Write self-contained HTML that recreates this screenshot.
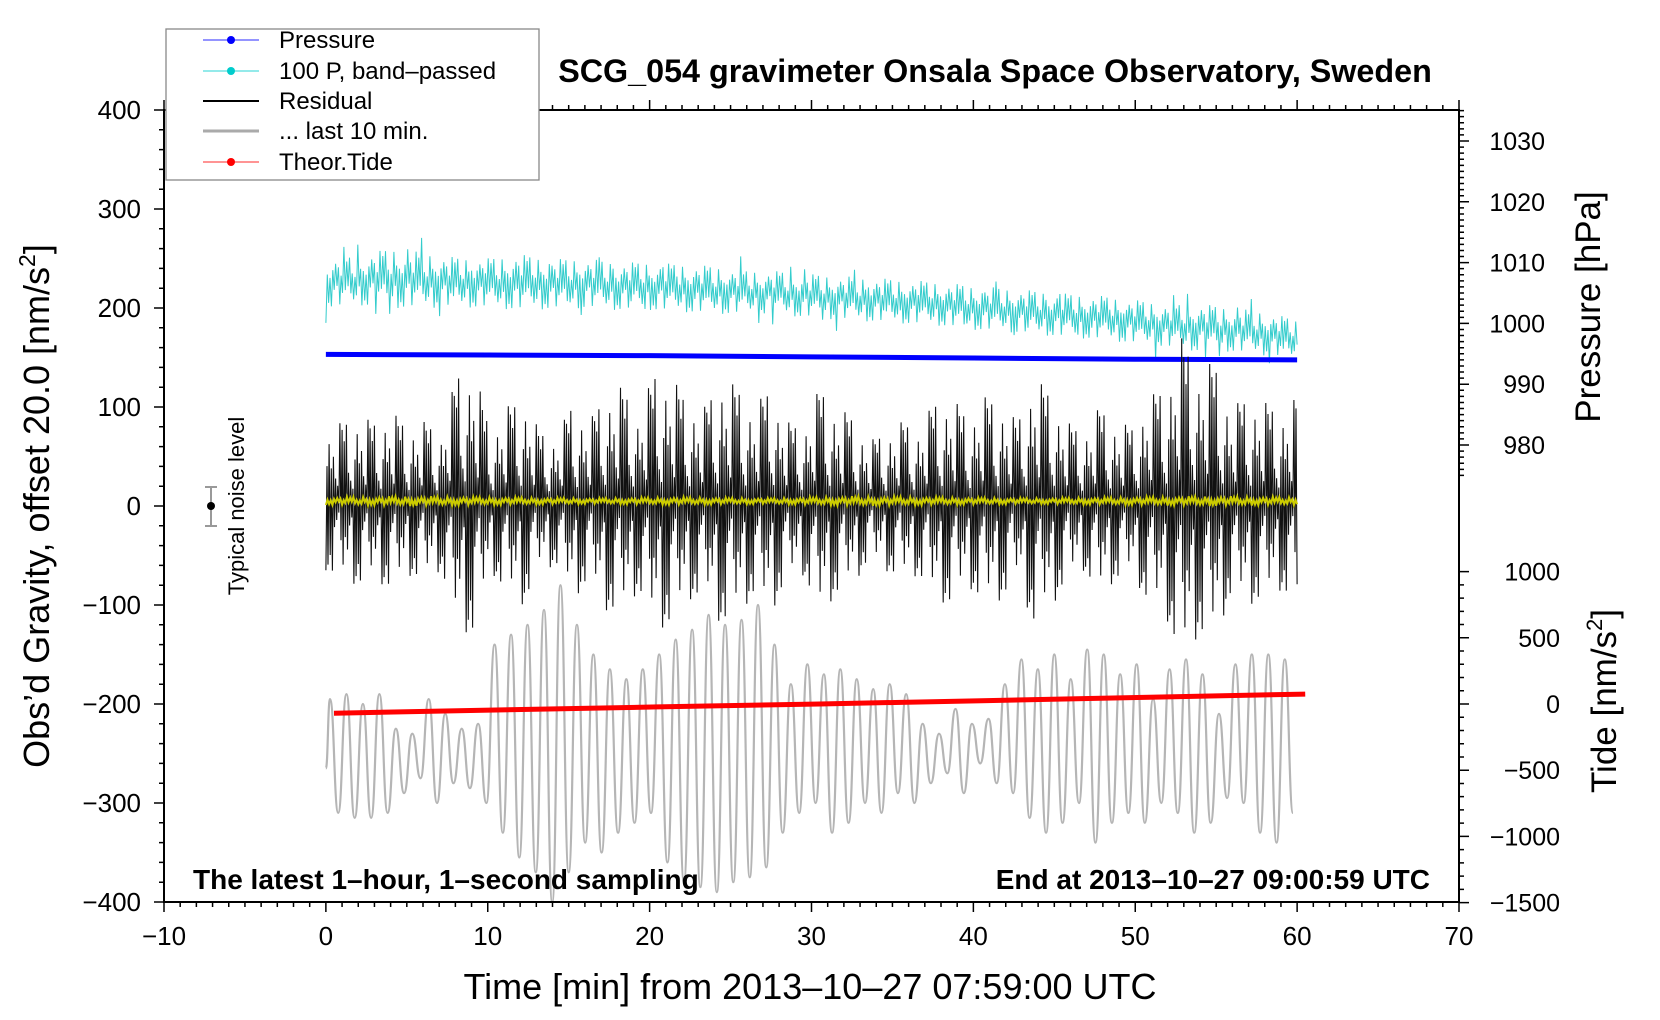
<!DOCTYPE html>
<html><head><meta charset="utf-8"><style>
html,body{margin:0;padding:0;background:#fff;}
svg{display:block;font-family:"Liberation Sans",Arial,sans-serif;}
</style></head><body>
<svg id="chart" width="1660" height="1020" viewBox="0 0 1660 1020" xmlns="http://www.w3.org/2000/svg">
<g id="marks"></g>
<g id="axes"></g>
<text x="995" y="82" font-size="32.3" font-weight="bold" text-anchor="middle">SCG_054 gravimeter Onsala Space Observatory, Sweden</text>
<text x="193" y="889" font-size="28" font-weight="bold">The latest 1–hour, 1–second sampling</text>
<text x="1430" y="889" font-size="28" font-weight="bold" text-anchor="end">End at 2013–10–27 09:00:59 UTC</text>
<text x="810" y="999" font-size="36" text-anchor="middle">Time [min] from 2013–10–27 07:59:00 UTC</text>
<text transform="translate(49,506) rotate(-90)" font-size="36" text-anchor="middle">Obs’d Gravity, offset 20.0 [nm/s<tspan font-size="23" dy="-14">2</tspan><tspan dy="14">]</tspan></text>
<text transform="translate(1600,307) rotate(-90)" font-size="35" text-anchor="middle">Pressure [hPa]</text>
<text transform="translate(1616,701) rotate(-90)" font-size="35" text-anchor="middle">Tide [nm/s<tspan font-size="22" dy="-14">2</tspan><tspan dy="14">]</tspan></text>
<g>
<line x1="211" y1="487" x2="211" y2="526" stroke="#999" stroke-width="2"/>
<line x1="205" y1="487" x2="217" y2="487" stroke="#999" stroke-width="2"/>
<line x1="205" y1="526" x2="217" y2="526" stroke="#999" stroke-width="2"/>
<circle cx="211" cy="506" r="4" fill="#000"/>
<text transform="translate(244,506) rotate(-90)" font-size="22" text-anchor="middle">Typical noise level</text>
</g>
<g>
<rect x="166" y="29" width="373" height="151" fill="#fff" stroke="#888" stroke-width="1.3"/>
<g><line x1="203" y1="40" x2="259" y2="40" stroke="#55f" stroke-width="1.2"/><circle cx="231" cy="40" r="4" fill="#00f"/><text x="279" y="48" font-size="24">Pressure</text></g>
<g><line x1="203" y1="71" x2="259" y2="71" stroke="#5dd" stroke-width="1.2"/><circle cx="231" cy="71" r="4" fill="#0cc"/><text x="279" y="79" font-size="24">100 P, band–passed</text></g>
<g><line x1="203" y1="101" x2="259" y2="101" stroke="#000" stroke-width="2"/><text x="279" y="109" font-size="24">Residual</text></g>
<g><line x1="203" y1="131" x2="259" y2="131" stroke="#aaa" stroke-width="3"/><text x="279" y="139" font-size="24">... last 10 min.</text></g>
<g><line x1="203" y1="162" x2="259" y2="162" stroke="#f55" stroke-width="1.2"/><circle cx="231" cy="162" r="4" fill="#f00"/><text x="279" y="170" font-size="24">Theor.Tide</text></g>
</g>
</svg>
<script>
// ---- data ----
const xTicks=[-10,0,10,20,30,40,50,60,70];
const yTicks=[-400,-300,-200,-100,0,100,200,300,400];
const pTicks=[980,990,1000,1010,1020,1030];
const tTicks=[-1500,-1000,-500,0,500,1000];
const residualAmp=[70,80,85,80,90,75,80,70,130,135,70,95,105,70,65,100,80,110,115,90,130,125,100,95,125,115,95,115,80,75,115,95,85,60,70,80,75,100,105,85,105,100,80,125,110,80,70,95,80,75,105,115,165,135,140,95,105,100,90,105];
const residualBase=[5,5,5,5,5,5,5];
const yellowAmp=[4,5,4,3,4,3,5,4,3,4,5,4];
const cyanCenter=[225,228,230,228,226,225,226,224,225,222,222,220,218,216,215,212,210,208,206,204,200,198,195,192,190,186,182,180,178,174,168];
const cyanAmp=[25,25,30,28,25,25,28,25,25,24,24,24,24,22,22,22,22,22,22,22,22,22,22,22,22,22,22,24,22,22,20];
const grayPeaks=[-195,-190,-200,-190,-225,-230,-195,-210,-225,-220,-140,-130,-120,-105,-80,-120,-150,-165,-175,-165,-150,-135,-125,-110,-120,-115,-100,-140,-180,-160,-170,-165,-175,-185,-180,-190,-220,-230,-205,-220,-215,-180,-155,-165,-150,-175,-145,-150,-170,-160,-195,-165,-155,-170,-210,-160,-150,-150,-155];
const grayTroughs=[-310,-315,-315,-310,-290,-275,-300,-280,-285,-300,-330,-355,-370,-400,-370,-340,-350,-330,-320,-310,-360,-380,-385,-390,-380,-375,-365,-330,-310,-300,-330,-320,-300,-310,-290,-300,-280,-270,-290,-260,-280,-290,-315,-330,-320,-300,-340,-320,-310,-320,-300,-310,-330,-320,-295,-300,-330,-340,-310];
const pressureTimes=[0,10,20,30,40,50,60];
const pressureVals=[994.9,994.8,994.7,994.5,994.3,994.1,994.0];
const tideTimes=[0.5,10.5,20.5,30.5,40.5,50.5,60.5];
const tideVals=[-70,-45,-22,0,25,50,75];

// ---- scales ----
const X0=164,X1=1459,Y0=110,Y1=902;
const xs=v=>X0+(v+10)/80*(X1-X0);
const ys=v=>Y1-(v+400)/800*(Y1-Y0);
const ps=v=>141+(1030-v)*6.08;
const ts=v=>704-v*0.1324;
const NS='http://www.w3.org/2000/svg';
const marks=document.getElementById('marks');
const axes=document.getElementById('axes');
function mk(tag,attrs,parent){const e=document.createElementNS(NS,tag);for(const k in attrs)e.setAttribute(k,attrs[k]);parent.appendChild(e);return e;}
function interp(arr,t,span){const f=t/span*(arr.length-1);const i=Math.min(Math.floor(f),arr.length-2);const r=f-i;return arr[i]*(1-r)+arr[i+1]*r;}
const pattern=[1,0.35,0.8,0.2,0.95,0.5,0.3,0.75,0.15,0.6,0.9,0.25,0.45];
const spikes=[1.6,1,1,1,1,1,1,1,1,1,1,1,1,1,1,1,1,1,1,1,1,1,1.4];

// cyan band-passed
let d='';const nC=700;
for(let i=0;i<=nC;i++){const t=i/nC*60;const c=interp(cyanCenter,t,60),a=interp(cyanAmp,t,60);const s=(i%2?1:-1)*pattern[i%13]*spikes[(i*7)%23];d+=(i?'L':'M')+xs(t).toFixed(1)+' '+ys(c+s*a).toFixed(1);}
let el=mk('path',{d:d,fill:'none',stroke:'#3cc','stroke-width':1},marks);



// pressure
d='';pressureTimes.forEach((t,i)=>{d+=(i?'L':'M')+xs(t)+' '+ps(pressureVals[i]);});
el=mk('path',{d:d,fill:'none',stroke:'#00f','stroke-width':5},marks);



// gray last10
d='';const nG=grayPeaks.length;const per=60/nG;let pts=[];
pts.push([0,-265]);
for(let k=0;k<nG;k++){pts.push([k*per+per*0.25,grayPeaks[k]]);pts.push([k*per+per*0.75,grayTroughs[k]]);}
pts.forEach((p,i)=>{if(i===0){d+='M'+xs(p[0])+' '+ys(p[1]);return;}const q=pts[i-1];const mx=(xs(q[0])+xs(p[0]))/2;d+='C'+mx+' '+ys(q[1])+' '+mx+' '+ys(p[1])+' '+xs(p[0])+' '+ys(p[1]);});
el=mk('path',{d:d,fill:'none',stroke:'#b5b5b5','stroke-width':2.2},marks);



// residual
d='';const nR=900;
for(let i=0;i<=nR;i++){const t=i/nR*60;const a=interp(residualAmp,t,60),b=interp(residualBase,t,60);const s=(i%2?1:-1)*pattern[(i*5)%13];d+=(i?'L':'M')+xs(t).toFixed(1)+' '+ys(b+s*a).toFixed(1);}
el=mk('path',{d:d,fill:'none',stroke:'#111','stroke-width':1.1},marks);



// yellow
d='';const nY=600;
for(let i=0;i<=nY;i++){const t=i/nY*60;const a=interp(yellowAmp,t,60);const s=(i%2?1:-1)*pattern[i%13];d+=(i?'L':'M')+xs(t).toFixed(1)+' '+ys(5+s*a).toFixed(1);}
el=mk('path',{d:d,fill:'none',stroke:'#cc0','stroke-width':2},marks);



// tide
d='';tideTimes.forEach((t,i)=>{d+=(i?'L':'M')+xs(t)+' '+ts(tideVals[i]);});
el=mk('path',{d:d,fill:'none',stroke:'#f00','stroke-width':5},marks);



// ---- axes ----
el=mk('rect',{x:X0,y:Y0,width:X1-X0,height:Y1-Y0,fill:'none',stroke:'#000','stroke-width':2},axes);


let tk='';
for(let v=-10;v<=70;v++){const x=xs(v);const L=v%10===0?10:5;tk+='M'+x+' '+Y1+'v'+L+'M'+x+' '+Y0+'v'+(-L);}
for(let v=-400;v<=400;v+=20){const y=ys(v);const L=v%100===0?10:5;tk+='M'+X0+' '+y+'h'+(-L);}
for(let v=975;v<=1035;v++){const y=ps(v);if(y<Y0)continue;const L=v%10===0?10:5;tk+='M'+X1+' '+y+'h'+L;}
for(let v=-1500;v<=1000;v+=100){const y=ts(v);const L=v%500===0?10:5;tk+='M'+X1+' '+y+'h'+L;}
el=mk('path',{d:tk,stroke:'#000','stroke-width':1.5,fill:'none'},axes);


xTicks.forEach(v=>{const t=mk('text',{x:xs(v),y:945,'font-size':26,'text-anchor':'middle'},axes);t.textContent=String(v).replace('-','\u2212');

});
yTicks.forEach(v=>{const t=mk('text',{x:141,y:ys(v)+9,'font-size':26,'text-anchor':'end'},axes);t.textContent=String(v).replace('-','\u2212');

});
pTicks.forEach(v=>{const t=mk('text',{x:1545,y:ps(v)+9,'font-size':25,'text-anchor':'end'},axes);t.textContent=String(v);

});
tTicks.forEach(v=>{const t=mk('text',{x:1560,y:ts(v)+9,'font-size':25,'text-anchor':'end'},axes);t.textContent=String(v).replace('-','\u2212');

});
</script>
</body></html>
